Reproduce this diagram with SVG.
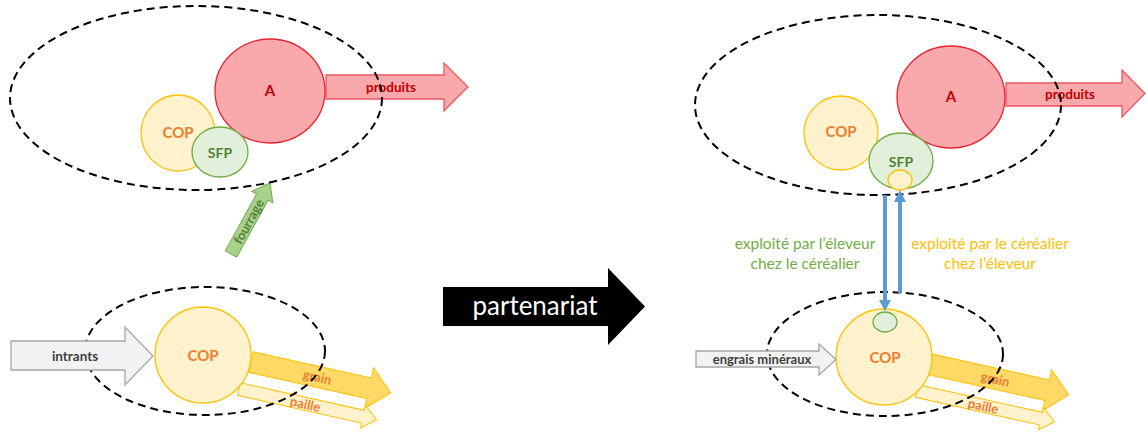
<svg xmlns="http://www.w3.org/2000/svg" width="1147" height="432" viewBox="0 0 1147 432">
<style>
text{font-family:Lato,"Open Sans","Liberation Sans",sans-serif;text-anchor:middle}
.b{font-weight:bold}
.zone{fill:none;stroke:#000;stroke-width:2;stroke-dasharray:8,5}
.a{fill:#F9A8AC;stroke:#E8232E;stroke-width:1.3}
.prod{fill:#F9A8AC;stroke:#EE5560;stroke-width:1.3}
.cop{fill:#FFF2CC;stroke:#FFC000;stroke-width:1.3}
.sfp{fill:#E2EFDA;stroke:#70AD47;stroke-width:1.3}
.grain{fill:#FFD966;stroke:#FFC000;stroke-width:1}
.paille{fill:#FFF2CC;stroke:#FFC000;stroke-width:1}
.gray{fill:#F2F2F2;stroke:#A6A6A6;stroke-width:1.3}
.four{fill:#A9D18E;stroke:#70AD47;stroke-width:1}
.red{fill:#C00000}
.or{fill:#ED7D31}
.gr{fill:#548235}
.dk{fill:#404040}
.blue{stroke:#5B9BD5;stroke-width:4;fill:none}
.bh{fill:#5B9BD5}
</style>

<!-- LEFT PANEL -->
<g id="left-produits">
<path class="prod" d="M326,75 L444,75 L444,63 L468,87 L444,111 L444,99 L326,99 Z"/>
<text class="b red" x="391" y="92" font-size="13.5">produits</text>
</g>
<g id="left-A">
<ellipse class="a" cx="270" cy="91" rx="55" ry="52"/>
<text class="b red" x="270" y="96" font-size="15">A</text>
</g>
<g id="left-COP">
<ellipse class="cop" cx="178" cy="133" rx="37" ry="38"/>
<text class="b or" x="178" y="138" font-size="15">COP</text>
</g>
<g id="left-SFP">
<ellipse class="sfp" cx="220" cy="152" rx="28" ry="25"/>
<text class="b gr" x="220" y="158" font-size="14">SFP</text>
</g>
<g id="left-fourrage" transform="translate(231,254) rotate(-61.2)">
<path class="four" d="M0,-6.5 L65,-6.5 L65,-12 L81,0 L65,12 L65,6.5 L0,6.5 Z"/>
<text class="b gr" x="37" y="4.5" font-size="13">fourrage</text>
</g>
<g id="left-grain" transform="translate(251,362) rotate(12.5)">
<path class="grain" d="M0,-10.5 L121,-10.5 L121,-21 L143,0 L121,21 L121,10.5 L0,10.5 Z"/>
<text class="b or" x="68" y="5" font-size="13">grain</text>
</g>
<g id="left-paille" transform="translate(239,389) rotate(12.6)">
<path class="paille" d="M0,-6.5 L127,-6.5 L127,-11.5 L141,0 L127,11.5 L127,6.5 L0,6.5 Z"/>
<text class="b or" x="68" y="5" font-size="13">paille</text>
</g>
<g id="left-COP2">
<circle class="cop" cx="203" cy="355" r="48"/>
<text class="b or" x="203" y="361" font-size="15">COP</text>
</g>
<g id="left-zones">
<ellipse class="zone" cx="196" cy="98" rx="186" ry="92"/>
<ellipse class="zone" cx="205" cy="351" rx="120" ry="64"/>
</g>
<g id="left-intrants">
<path class="gray" d="M11,341 L125,341 L125,327 L153,356 L125,385 L125,370 L11,370 Z"/>
<text class="b dk" x="75" y="361" font-size="13.5">intrants</text>
</g>

<!-- MIDDLE -->
<g id="partenariat">
<path fill="#000" d="M443,287 L608,287 L608,268 L645,306.5 L608,345 L608,326 L443,326 Z"/>
<text x="535" y="315" font-size="26" fill="#fff">partenariat</text>
</g>

<!-- RIGHT PANEL -->
<g id="right-produits">
<path class="prod" d="M1006,83 L1122,83 L1122,70 L1145,93.5 L1122,117 L1122,106 L1006,106 Z"/>
<text class="b red" x="1070" y="99" font-size="13.5">produits</text>
</g>
<g id="right-A">
<ellipse class="a" cx="951" cy="97" rx="54" ry="51"/>
<text class="b red" x="951" y="102" font-size="15">A</text>
</g>
<g id="right-COP">
<circle class="cop" cx="841" cy="133" r="37"/>
<text class="b or" x="841" y="137" font-size="15">COP</text>
</g>
<g id="right-SFP">
<ellipse class="sfp" cx="901" cy="161" rx="32" ry="28"/>
<text class="b gr" x="901" y="167" font-size="14">SFP</text>
<ellipse class="cop" cx="900" cy="180" rx="12" ry="10"/>
</g>
<g id="right-grain" transform="translate(929,364) rotate(12.5)">
<path class="grain" d="M0,-10.5 L121,-10.5 L121,-21 L143,0 L121,21 L121,10.5 L0,10.5 Z"/>
<text class="b or" x="68" y="5" font-size="13">grain</text>
</g>
<g id="right-paille" transform="translate(917,391) rotate(12.6)">
<path class="paille" d="M0,-6.5 L127,-6.5 L127,-11.5 L141,0 L127,11.5 L127,6.5 L0,6.5 Z"/>
<text class="b or" x="68" y="5" font-size="13">paille</text>
</g>
<g id="right-COP2">
<circle class="cop" cx="884" cy="357" r="48"/>
<text class="b or" x="885" y="363" font-size="15">COP</text>
<ellipse class="sfp" cx="885" cy="322" rx="12" ry="10"/>
</g>
<g id="right-zones">
<ellipse class="zone" cx="878" cy="105" rx="183" ry="90"/>
<ellipse class="zone" cx="885" cy="354" rx="118" ry="62"/>
</g>
<g id="right-engrais">
<path class="gray" d="M696,351 L819,351 L819,344 L836,359.5 L819,375 L819,367 L696,367 Z"/>
<text class="b dk" x="762" y="364" font-size="13">engrais minéraux</text>
</g>
<g id="connectors">
<line class="blue" x1="885" y1="195" x2="885" y2="301"/>
<polygon class="bh" points="879,300 891,300 885,311"/>
<line class="blue" x1="900" y1="293" x2="900" y2="201"/>
<polygon class="bh" points="894,202 906,202 900,190"/>
</g>
<g id="labels">
<text x="805" y="249" font-size="15.5" fill="#70AD47">exploité par l’éleveur</text>
<text x="805" y="269" font-size="15.5" fill="#70AD47">chez le céréalier</text>
<text x="990" y="249" font-size="15.5" fill="#FFC000">exploité par le céréalier</text>
<text x="990" y="269" font-size="15.5" fill="#FFC000">chez l’éleveur</text>
</g>
</svg>
